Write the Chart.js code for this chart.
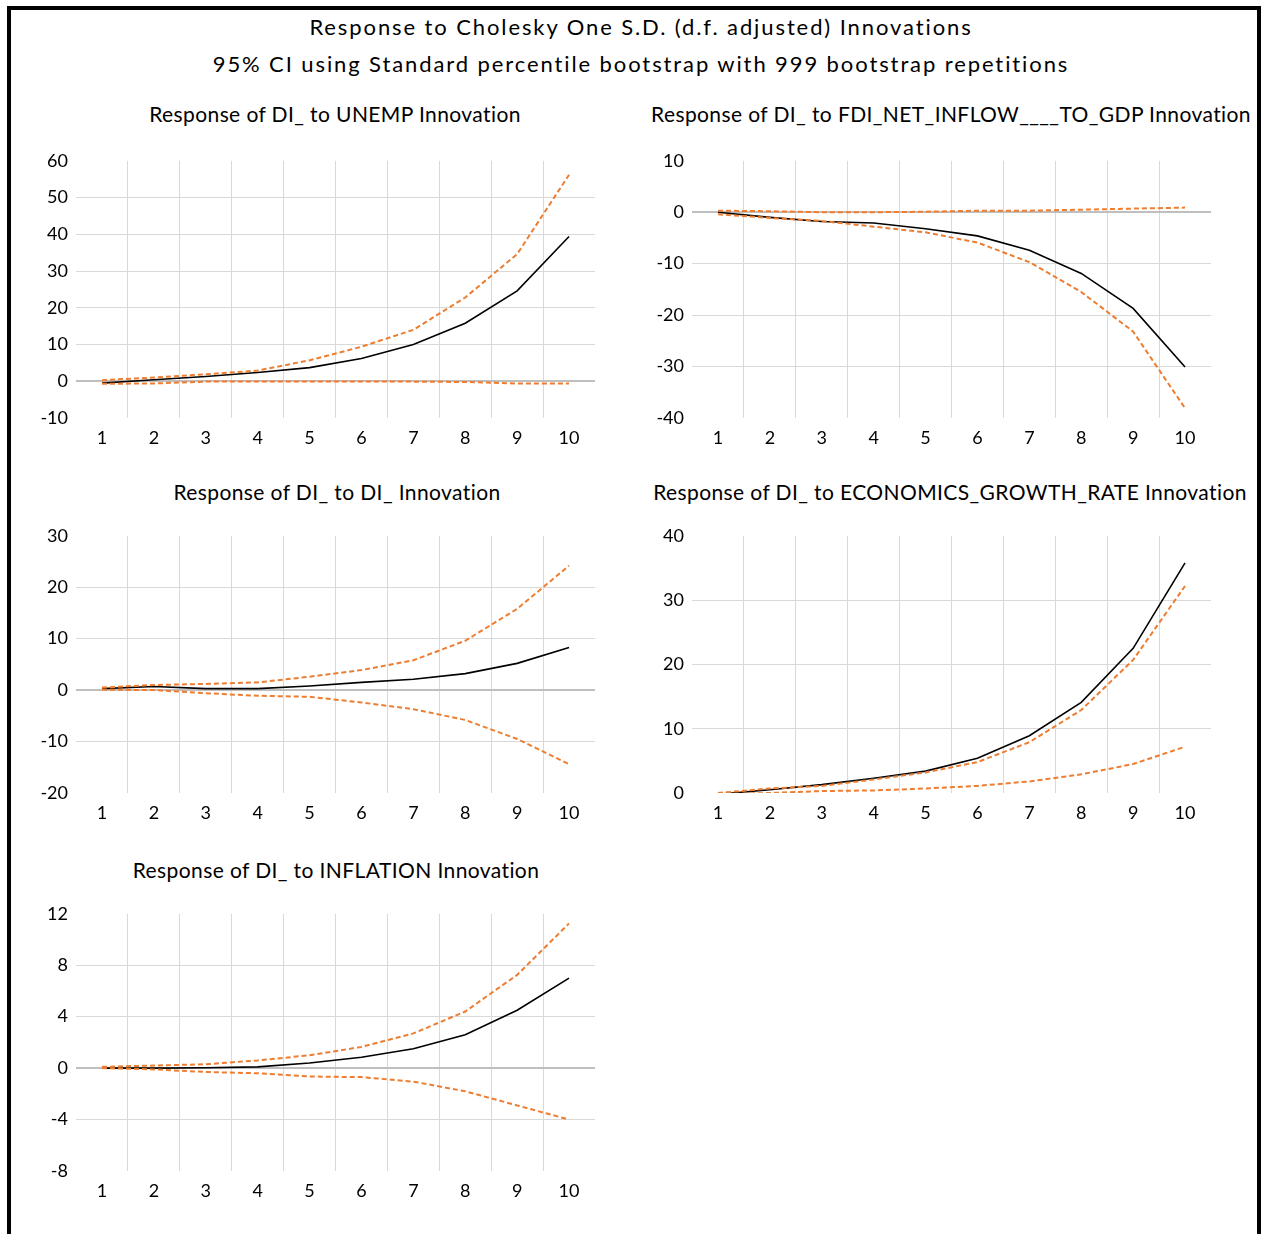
<!DOCTYPE html>
<html>
<head>
<meta charset="utf-8">
<script src="https://cdn.jsdelivr.net/npm/chart.js@4.4.1/dist/chart.umd.min.js"></script>
<style>
  html, body { margin: 0; padding: 0; background: #fff; }
  body { width: 1262px; height: 1234px; position: relative; overflow: hidden; font-family: Lato, "Open Sans", sans-serif; color: #000; }
  .frame { position: absolute; left: 7px; top: 6px; width: 1254px; height: 1250px; border: 4px solid #000; box-sizing: border-box; }
  .t { position: absolute; white-space: nowrap; transform: translate(-50%, -50%); line-height: 1; }
  .main { font-size: 22px; letter-spacing: 1.9px; }
  .sub { font-size: 21px; letter-spacing: 0.4px; }
  canvas { position: absolute; }
</style>
</head>
<body>
<div class="frame"></div>
<div class="t main" style="left:641px; top:27px;">Response to Cholesky One S.D. (d.f. adjusted) Innovations</div>
<div class="t main" style="left:641px; top:64px;">95% CI using Standard percentile bootstrap with 999 bootstrap repetitions</div>
<div class="t sub" style="left:335px; top:113px;">Response of DI_ to UNEMP Innovation</div>
<div class="t sub" style="left:951px; top:113px;">Response of DI_ to FDI_NET_INFLOW____TO_GDP Innovation</div>
<div class="t sub" style="left:337px; top:491px;">Response of DI_ to DI_ Innovation</div>
<div class="t sub" style="left:950px; top:491px;">Response of DI_ to ECONOMICS_GROWTH_RATE Innovation</div>
<div class="t sub" style="left:336px; top:869px;">Response of DI_ to INFLATION Innovation</div>

<canvas id="c1" width="585" height="312" style="left:16px; top:142px;"></canvas>
<canvas id="c2" width="585" height="312" style="left:632px; top:142px;"></canvas>
<canvas id="c3" width="585" height="312" style="left:16px; top:517px;"></canvas>
<canvas id="c4" width="585" height="312" style="left:632px; top:517px;"></canvas>
<canvas id="c5" width="585" height="312" style="left:16px; top:895px;"></canvas>

<script>
// Periods (categories)
const periods = ['1', '2', '3', '4', '5', '6', '7', '8', '9', '10'];

// Response of DI_ to UNEMP
const unempResp  = [-0.5, 0.4, 1.3, 2.4, 3.7, 6.2, 10.0, 15.8, 24.6, 39.4];
const unempUpper = [0.3, 1.0, 1.9, 2.9, 5.7, 9.4, 14.0, 22.8, 34.6, 56.2];
const unempLower = [-0.7, -0.6, -0.1, -0.1, -0.1, -0.1, -0.1, -0.2, -0.6, -0.6];

// Response of DI_ to FDI_NET_INFLOW____TO_GDP
const fdiResp  = [0.0, -1.0, -1.8, -2.1, -3.2, -4.6, -7.4, -11.9, -18.7, -30.1];
const fdiUpper = [0.3, 0.2, 0.0, 0.0, 0.1, 0.3, 0.3, 0.5, 0.7, 0.9];
const fdiLower = [-0.4, -1.1, -1.7, -2.8, -3.9, -5.9, -9.7, -15.5, -23.2, -38.1];

// Response of DI_ to DI_
const diResp  = [0.3, 0.7, 0.3, 0.3, 0.8, 1.5, 2.1, 3.2, 5.2, 8.3];
const diUpper = [0.5, 1.0, 1.2, 1.5, 2.6, 3.9, 5.8, 9.6, 15.8, 24.2];
const diLower = [0.1, 0.0, -0.6, -1.1, -1.3, -2.4, -3.7, -5.8, -9.5, -14.4];

// Response of DI_ to ECONOMICS_GROWTH_RATE
const growthResp  = [-0.2, 0.5, 1.3, 2.3, 3.4, 5.4, 8.9, 14.1, 22.5, 35.8];
const growthUpper = [0.0, 0.7, 1.1, 2.1, 3.2, 4.8, 7.9, 12.9, 20.7, 32.2];
const growthLower = [-0.2, 0.0, 0.3, 0.4, 0.7, 1.1, 1.8, 2.9, 4.5, 7.2];

// Response of DI_ to INFLATION
const inflResp  = [0.0, 0.0, 0.03, 0.1, 0.4, 0.85, 1.5, 2.6, 4.5, 7.0];
const inflUpper = [0.1, 0.2, 0.3, 0.6, 1.0, 1.65, 2.7, 4.4, 7.25, 11.25];
const inflLower = [0.0, -0.1, -0.3, -0.4, -0.65, -0.7, -1.05, -1.8, -2.9, -4.0];

// Y-axis ranges per panel: [min, max, step]
const unempAxis  = [-10, 60, 10];
const fdiAxis    = [-40, 10, 10];
const diAxis     = [-20, 30, 10];
const growthAxis = [0, 40, 10];
const inflAxis   = [-8, 12, 4];

Chart.defaults.font.family = 'Lato, "Open Sans", sans-serif';
Chart.defaults.font.size = 18;
Chart.defaults.color = '#000';

const ORANGE = '#ED7D31';

function makeChart(id, resp, upper, lower, axis) {
  const ctx = document.getElementById(id);
  return new Chart(ctx, {
    type: 'line',
    data: {
      labels: periods,
      datasets: [
        { data: upper, borderColor: ORANGE, borderWidth: 2, borderDash: [5, 3], pointRadius: 0, tension: 0, fill: false },
        { data: lower, borderColor: ORANGE, borderWidth: 2, borderDash: [5, 3], pointRadius: 0, tension: 0, fill: false },
        { data: resp, borderColor: '#000', borderWidth: 1.6, pointRadius: 0, tension: 0, fill: false }
      ]
    },
    options: {
      responsive: false,
      animation: false,
      layout: { padding: { top: 6, right: 6, left: 0, bottom: 0 } },
      plugins: { legend: { display: false }, tooltip: { enabled: false }, title: { display: false } },
      scales: {
        x: {
          offset: true,
          border: { display: false },
          grid: {
            offset: true,
            drawTicks: false,
            color: (c) => (c.type !== 'tick' || c.index === 0) ? 'rgba(0,0,0,0)' : '#D9D9D9',
            lineWidth: 1
          },
          ticks: { padding: 9, maxRotation: 0, autoSkip: false, font: { size: 18 } },
          afterFit: (s) => { s.height = 36; }
        },
        y: {
          min: axis[0],
          max: axis[1],
          border: { display: false },
          grid: {
            drawTicks: false,
            color: (c) => {
              const n = c.scale.ticks.length;
              if (c.index === 0 || c.index === n - 1) return 'rgba(0,0,0,0)';
              return c.tick.value === 0 ? '#BFBFBF' : '#D9D9D9';
            },
            lineWidth: (c) => (c.tick && c.tick.value === 0) ? 2 : 1
          },
          ticks: { stepSize: axis[2], padding: 8, font: { size: 18 } },
          afterFit: (s) => { s.width = 60; }
        }
      }
    }
  });
}

makeChart('c1', unempResp, unempUpper, unempLower, unempAxis);
makeChart('c2', fdiResp, fdiUpper, fdiLower, fdiAxis);
makeChart('c3', diResp, diUpper, diLower, diAxis);
makeChart('c4', growthResp, growthUpper, growthLower, growthAxis);
makeChart('c5', inflResp, inflUpper, inflLower, inflAxis);
</script>
</body>
</html>
